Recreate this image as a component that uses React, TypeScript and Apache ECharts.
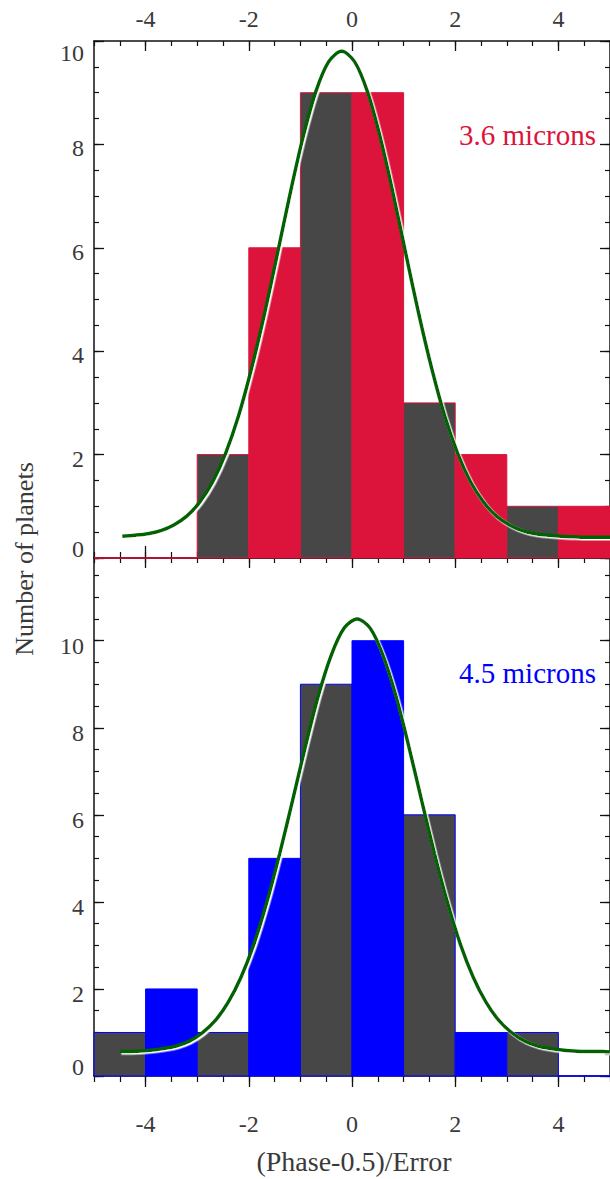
import React, { useEffect, useRef } from "react";
import * as echarts from "echarts";

// ---- data ----
const binStarts = [-5, -4, -3, -2, -1, 0, 1, 2, 3, 4];
const counts36 = [0, 0, 2, 6, 9, 9, 3, 2, 1, 1];
const counts45 = [1, 2, 1, 5, 9, 10, 6, 1, 1, 0];

// fitted curve, 3.6 microns panel
const curveX36 = [
  -4.45, -4.2, -3.95, -3.7, -3.45, -3.2, -2.95, -2.7, -2.45, -2.2, -1.95, -1.7,
  -1.45, -1.2, -0.95, -0.7, -0.45, -0.2, 0.05, 0.3, 0.55, 0.8, 1.05, 1.3, 1.55,
  1.8, 2.05, 2.3, 2.55, 2.8, 3.05, 3.3, 3.55, 3.8, 4.05, 4.3, 4.55, 4.8, 5.0,
];
const fit36 = [
  0.42, 0.44, 0.47, 0.53, 0.64, 0.81, 1.08, 1.47, 2.02, 2.74, 3.65, 4.7, 5.86,
  7.04, 8.13, 9.02, 9.6, 9.8, 9.6, 9.02, 8.13, 7.04, 5.86, 4.7, 3.65, 2.74,
  2.02, 1.47, 1.08, 0.81, 0.64, 0.53, 0.47, 0.44, 0.42, 0.41, 0.4, 0.4, 0.4,
];

// fitted curve, 4.5 microns panel
const curveX45 = [
  -4.5, -4.15, -3.9, -3.65, -3.4, -3.15, -2.9, -2.65, -2.4, -2.15, -1.9, -1.65,
  -1.4, -1.15, -0.9, -0.65, -0.4, -0.15, 0.1, 0.35, 0.6, 0.85, 1.1, 1.35, 1.6,
  1.85, 2.1, 2.35, 2.6, 2.85, 3.1, 3.35, 3.6, 3.85, 4.1, 4.35, 4.6, 4.85, 5.0,
];
const fit45 = [
  0.56, 0.57, 0.59, 0.63, 0.69, 0.8, 0.99, 1.27, 1.69, 2.27, 3.03, 3.99, 5.11,
  6.33, 7.58, 8.74, 9.67, 10.29, 10.5, 10.29, 9.67, 8.74, 7.58, 6.33, 5.11,
  3.99, 3.03, 2.27, 1.69, 1.27, 0.99, 0.8, 0.69, 0.63, 0.59, 0.57, 0.56, 0.56,
  0.55,
];

const xTickLabels = [-4, -2, 0, 2, 4];
const yTickLabels = [0, 2, 4, 6, 8, 10];

// ---- styling ----
const FONT = "'Liberation Serif', 'Times New Roman', serif";
const TEXT = "#3a3a3a";
const AXIS = "#111111";
const GRAY = "#474747";
const CRIMSON = "#DC143C";
const BLUE = "#0000FF";
const GREEN = "#006400";

function xPair(
  grid: number,
  position: string,
  inside: boolean,
  majorLen: number,
  minorLen: number,
  showLabels: boolean,
  margin: number
) {
  return [
    {
      type: "value",
      gridIndex: grid,
      position,
      min: -5,
      max: 5,
      interval: 1,
      axisLine: { show: true, onZero: false, lineStyle: { color: AXIS, width: 1.5 } },
      axisTick: {
        show: true,
        inside,
        length: majorLen,
        customValues: xTickLabels,
        lineStyle: { color: AXIS, width: 1.3 },
      },
      axisLabel: {
        show: showLabels,
        customValues: xTickLabels,
        margin,
        fontFamily: FONT,
        fontSize: 24,
        color: TEXT,
        formatter: (v: number) => (Math.abs(v % 2) === 0 ? String(v) : ""),
      },
      splitLine: { show: false },
    },
    {
      type: "value",
      gridIndex: grid,
      position,
      min: -5,
      max: 5,
      interval: 0.5,
      axisLine: { show: false, onZero: false },
      axisTick: { show: true, inside, length: minorLen, lineStyle: { color: AXIS, width: 1.2 } },
      axisLabel: { show: false },
      splitLine: { show: false },
    },
  ];
}

function yPair(grid: number, position: string, max: number, showLabels: boolean, topPanel: boolean) {
  const rich = {
    n: { fontFamily: FONT, fontSize: 24, color: TEXT, padding: [topPanel ? 8 : 10, 0, 0, 0] },
    lo: { fontFamily: FONT, fontSize: 24, color: TEXT, padding: [0, 0, 18, 0] },
    hi: { fontFamily: FONT, fontSize: 24, color: TEXT, padding: [24, 0, 0, 0] },
  };
  return [
    {
      type: "value",
      gridIndex: grid,
      position,
      min: 0,
      max,
      interval: 2,
      axisLine: { show: true, onZero: false, lineStyle: { color: AXIS, width: 1.5 } },
      axisTick: {
        show: true,
        inside: true,
        length: 10,
        customValues: yTickLabels,
        lineStyle: { color: AXIS, width: 1.3 },
      },
      axisLabel: {
        show: showLabels,
        customValues: yTickLabels,
        margin: 10,
        fontFamily: FONT,
        fontSize: 24,
        color: TEXT,
        rich,
        formatter: (v: number) => {
          if (v === 0) return "{lo|0}";
          if (v === 10 && topPanel) return "{hi|10}";
          return "{n|" + v + "}";
        },
      },
      splitLine: { show: false },
    },
    {
      type: "value",
      gridIndex: grid,
      position,
      min: 0,
      max,
      interval: 0.5,
      axisLine: { show: false, onZero: false },
      axisTick: { show: true, inside: true, length: 5, lineStyle: { color: AXIS, width: 1.2 } },
      axisLabel: { show: false },
      splitLine: { show: false },
    },
  ];
}

function makeBars(accent: string) {
  return (params: any, api: any) => {
    const x0 = api.value(0);
    const x1 = api.value(1);
    const c = api.value(2);
    const pTop = api.coord([x0, c]);
    const pBot = api.coord([x1, 0]);
    if (c === 0) {
      return {
        type: "line",
        shape: { x1: pTop[0], y1: pBot[1], x2: pBot[0], y2: pBot[1] },
        style: { stroke: accent, lineWidth: 1.5 },
      };
    }
    const fill = Math.abs(x0 % 2) === 1 ? GRAY : accent;
    return {
      type: "rect",
      shape: { x: pTop[0], y: pTop[1], width: pBot[0] - pTop[0], height: pBot[1] - pTop[1] },
      style: { fill, stroke: accent, lineWidth: 1 },
    };
  };
}

function curveSeries(xIdx: number, yIdx: number, xs: number[], values: number[]) {
  return {
    type: "line",
    xAxisIndex: xIdx,
    yAxisIndex: yIdx,
    data: xs.map((x, i) => [x, values[i]]),
    smooth: 0.3,
    symbol: "none",
    showSymbol: false,
    lineStyle: {
      color: GREEN,
      width: 3.5,
      shadowColor: "#ffffff",
      shadowOffsetX: 1.5,
      shadowOffsetY: 1.5,
      shadowBlur: 0,
    },
    z: 5,
  };
}

export default function App() {
  const ref = useRef<HTMLDivElement>(null);

  useEffect(() => {
    if (!ref.current) return;
    const chart = echarts.init(ref.current, null, { renderer: "svg" });

    const xAxis = [
      ...xPair(0, "bottom", true, 12, 6, false, 8), // 0,1
      ...xPair(0, "top", true, 10, 5, true, 10), // 2,3
      ...xPair(1, "bottom", false, 11, 6, true, 36), // 4,5
      ...xPair(1, "top", true, 10, 5, false, 8), // 6,7
    ];
    const yAxis = [
      ...yPair(0, "left", 10, true, true), // 0,1
      ...yPair(0, "right", 10, false, true), // 2,3
      ...yPair(1, "left", 11.9, true, false), // 4,5
      ...yPair(1, "right", 11.9, false, false), // 6,7
    ];

    chart.setOption({
      animation: false,
      backgroundColor: "#ffffff",
      grid: [
        { left: 94, top: 41, width: 518, height: 517 },
        { left: 94, top: 558, width: 518, height: 518 },
      ],
      xAxis,
      yAxis,
      series: [
        {
          type: "custom",
          xAxisIndex: 0,
          yAxisIndex: 0,
          renderItem: makeBars(CRIMSON),
          data: binStarts.map((s, i) => [s, s + 1, counts36[i]]),
          encode: { x: [0, 1], y: 2 },
          z: 2,
        },
        curveSeries(0, 0, curveX36, fit36),
        {
          type: "custom",
          xAxisIndex: 4,
          yAxisIndex: 4,
          renderItem: makeBars(BLUE),
          data: binStarts.map((s, i) => [s, s + 1, counts45[i]]),
          encode: { x: [0, 1], y: 2 },
          z: 2,
        },
        curveSeries(4, 4, curveX45, fit45),
      ],
      graphic: [
        {
          type: "text",
          x: 24,
          y: 559,
          rotation: Math.PI / 2,
          style: {
            text: "Number of planets",
            fontFamily: FONT,
            fontSize: 26,
            fill: TEXT,
            align: "center",
            verticalAlign: "middle",
          },
        },
        {
          type: "text",
          x: 354,
          y: 1161,
          style: {
            text: "(Phase-0.5)/Error",
            fontFamily: FONT,
            fontSize: 28,
            fill: TEXT,
            align: "center",
            verticalAlign: "middle",
          },
        },
        {
          type: "text",
          x: 596,
          y: 135,
          style: {
            text: "3.6 microns",
            fontFamily: FONT,
            fontSize: 29,
            fill: CRIMSON,
            align: "right",
            verticalAlign: "middle",
          },
        },
        {
          type: "text",
          x: 596,
          y: 673,
          style: {
            text: "4.5 microns",
            fontFamily: FONT,
            fontSize: 29,
            fill: BLUE,
            align: "right",
            verticalAlign: "middle",
          },
        },
      ],
    });

    return () => chart.dispose();
  }, []);

  return (
    <div
      ref={ref}
      style={{ position: "absolute", left: 0, top: 0, width: 610, height: 1179 }}
    />
  );
}
